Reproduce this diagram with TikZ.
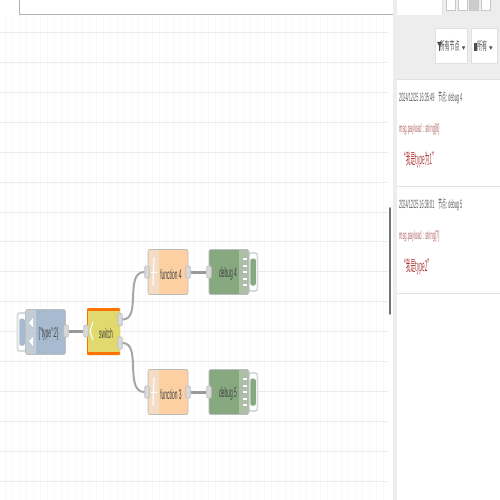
\documentclass[tikz,border=0pt]{standalone}
\usepackage{fontspec}
\setmainfont{Liberation Sans}
\newfontfamily\cjkf{Noto Sans CJK SC}
\newfontfamily\dejaf{DejaVu Sans}
\newcommand{\sq}[2][0.35]{\scalebox{#1}[1]{#2}}
\definecolor{injc}{HTML}{A6BBCF}
\definecolor{func}{HTML}{FDD0A2}
\definecolor{dbgc}{HTML}{87A980}
\definecolor{swc}{HTML}{E2D96E}
\definecolor{bord}{HTML}{BDBDBD}
\definecolor{gridc}{HTML}{EBEBEB}
\definecolor{fine}{HTML}{F9F9F9}
\definecolor{msgr}{HTML}{B03A3A}
\definecolor{msgs}{HTML}{B56A6A}
\tikzset{
  x=1pt,y=-1pt,
  flow/.style={draw=bord,line width=0.7pt,rounded corners=2pt,minimum width=40pt,minimum height=45pt,inner sep=0pt},
  injbox/.style={flow,fill=injc},
  funbox/.style={flow,fill=func},
  dbgbox/.style={flow,fill=dbgc},
  swbase/.style={fill=orange!90!red,rounded corners=1pt,minimum width=33pt,minimum height=47pt,inner sep=0pt},
  swbox/.style={fill=swc,minimum width=32pt,minimum height=41pt,inner sep=0pt},
  lab/.style={inner sep=0pt,font=\fontsize{14}{14}\selectfont,text=black!75},
  portn/.style={draw=bord,line width=0.7pt,fill=gray!30,rounded corners=1pt,minimum width=4.5pt,minimum height=12pt,inner sep=0pt},
  wire/.style={draw=gray!80,line width=3pt},
  curvew/.style={draw=gray!70,line width=2pt},
  btnout/.style={draw=black!15,line width=1.8pt,fill=white,rounded corners=2.5pt,minimum width=9pt,minimum height=38pt,inner sep=0pt},
  btnin/.style={rounded corners=1.5pt,minimum width=5.5pt,minimum height=27pt,inner sep=0pt},
  meta/.style={anchor=west,inner sep=0pt,font=\fontsize{12}{12}\selectfont,text=black!65},
  typ/.style={anchor=west,inner sep=0pt,font=\fontsize{12}{12}\selectfont,text=msgs},
  val/.style={anchor=west,inner sep=0pt,font=\fontsize{15}{15}\selectfont,text=msgr},
  fbtn/.style={draw=black!12,fill=white,minimum height=35pt,inner sep=0pt,font=\fontsize{12}{12}\selectfont,text=black!70},
}
\begin{document}
\begin{tikzpicture}
\useasboundingbox (0,0) rectangle (500,500);
\fill[white] (0,0) rectangle (500,500);
% fine grid
\foreach \vx in {5,12,...,388} \draw[fine,line width=0.5pt] (\vx,15) -- (\vx,500);
\foreach \vy in {32,62,92,122,152,182,212,241,271,301,331,361,391,421,451,481}
  \draw[gridc,line width=0.9pt] (0,\vy) -- (388,\vy);
% top panel
\fill[white] (19.5,0) rectangle (393,14.5);
\draw[black!30,line width=0.9pt] (19.5,-2) -- (19.5,14.5) -- (393,14.5);
% sidebar
\fill[black!7] (393,0) rectangle (500,79);
\fill[white] (397,0) rectangle (442,15);
\draw[black!12,line width=0.6pt] (442,0) -- (442,15);
\fill[black!7] (393,15) rectangle (397,500);
\fill[white] (397,79) rectangle (500,500);
\draw[black!12,line width=0.9pt] (397,79) -- (500,79);
\draw[black!12,line width=0.9pt] (397,186) -- (500,186);
\draw[black!12,line width=0.9pt] (397,293) -- (500,293);
% tab icons
\foreach \tx/\tf in {446/white,458/white,469/black!20,481/white}
  \draw[black!22,line width=0.6pt,fill=\tf] (\tx,-1) rectangle (\tx+9,10);
% filter buttons
\node[fbtn,minimum width=32pt] (filterA) at (451,46) {\hspace{3pt}\sq[0.42]{\cjkf 所有节点}\,\scalebox{0.6}{\dejaf ▾}};
\node[fbtn,minimum width=26pt] (filterB) at (484,46) {\hspace{2pt}\sq[0.42]{\cjkf 所有}\,\scalebox{0.6}{\dejaf ▾}};
\fill[black!70] (437,42) -- (442,42) -- (440,46) -- (440,51) -- (439,51) -- (439,46) -- cycle;
\fill[black!70] (473.5,43) rectangle (476.5,51);
% scrollbar
\draw[black!55,line width=1.8pt,line cap=round] (390,208) -- (390,314);
% messages
\node[meta] (m1a) at (399,98) {\sq[0.32]{2024/12/25 16:35:49\quad{\cjkf 节点:} debug 4}};
\node[typ] (m1b) at (399,129) {\sq[0.33]{msg.payload : string[8]}};
\node[val] (m1c) at (401,160) {\sq[0.31]{{\cjkf “我是type为1”}}};
\node[meta] (m2a) at (399,205) {\sq[0.32]{2024/12/25 16:36:01\quad{\cjkf 节点:} debug 5}};
\node[typ] (m2b) at (399,236) {\sq[0.33]{msg.payload : string[7]}};
\node[val] (m2c) at (401,267) {\sq[0.31]{{\cjkf “我是type2”}}};
% buttons behind
\node[btnout] (injb) at (22,332) {};
\node[btnin,fill=injc] (injbi) at (22,332) {};
\node[btnout] (d4b) at (253,272) {};
\node[btnin,fill=dbgc] (d4bi) at (253,272) {};
\node[btnout] (d5b) at (253,392) {};
\node[btnin,fill=dbgc] (d5bi) at (253,392) {};
% nodes
\node[injbox] (inj) at (45.5,332) {};
\node[swbase] (swb) at (103.5,331.5) {};
\node[swbox] (sw) at (103.5,331.5) {};
\node[funbox] (f4) at (168,272) {};
\node[funbox] (f3) at (168,392) {};
\node[dbgbox] (d4) at (229,272) {};
\node[dbgbox] (d5) at (229,392) {};
% icon panels
\fill[black!12,opacity=.5,rounded corners=1pt] (26,310) rectangle (36,354);
\fill[black!8,opacity=.5] (149,250) rectangle (159,294);
\fill[black!8,opacity=.5] (149,370) rectangle (159,414);
\fill[black!18,opacity=.5] (239,250) rectangle (249,294);
\fill[black!18,opacity=.5] (239,370) rectangle (249,414);
% labels
\node[lab] (linj) at (48.5,334) {\sq{\{"type":2\}}};
\node[lab] (lsw) at (106,333) {\sq{switch}};
\node[lab] (lf4) at (171,274) {\sq{function 4}};
\node[lab] (lf3) at (171,394) {\sq{function 3}};
\node[lab] (ld4) at (228,274) {\sq{debug 4}};
\node[lab] (ld5) at (228,394) {\sq{debug 5}};
% icons
\fill[white] (29,323) -- (33,318) -- (33,327) -- cycle;
\fill[white] (29,341) -- (33,337) -- (33,346) -- cycle;
\draw[white,line width=1.1pt] (90,331) -- (93,322) (90,331) -- (93,340);
\draw[white,line width=1.1pt] (154,258) -- (153,285);
\draw[white,line width=1pt] (151,272) -- (157,272);
\draw[white,line width=1.1pt] (154,378) -- (153,405);
\draw[white,line width=1pt] (151,392) -- (157,392);
\foreach \dy in {259,265.5,272,278.5,285} \fill[white] (243,\dy-1) rectangle (247,\dy+1);
\foreach \dy in {379,385.5,392,398.5,405} \fill[white] (243,\dy-1) rectangle (247,\dy+1);
% ports
\node[portn] (pinjo) at (66,331) {};
\node[portn] (pswi) at (86,331) {};
\node[portn] (pswa) at (120,319.5) {};
\node[portn] (pswb) at (120,343) {};
\node[portn] (pf4i) at (147,272) {};
\node[portn] (pf4o) at (188,272) {};
\node[portn] (pf3i) at (147,392) {};
\node[portn] (pf3o) at (188,392) {};
\node[portn] (pd4i) at (209,272) {};
\node[portn] (pd5i) at (209,392) {};
% wires
\draw[wire] (pinjo.east) -- (pswi.west);
\draw[wire] (pf4o.east) -- (pd4i.west);
\draw[wire] (pf3o.east) -- (pd5i.west);
\draw[curvew] (pswa.east) .. controls (142,319.5) and (124,272) .. (pf4i.west);
\draw[curvew] (pswb.east) .. controls (142,343) and (124,392) .. (pf3i.west);
\end{tikzpicture}
\end{document}
